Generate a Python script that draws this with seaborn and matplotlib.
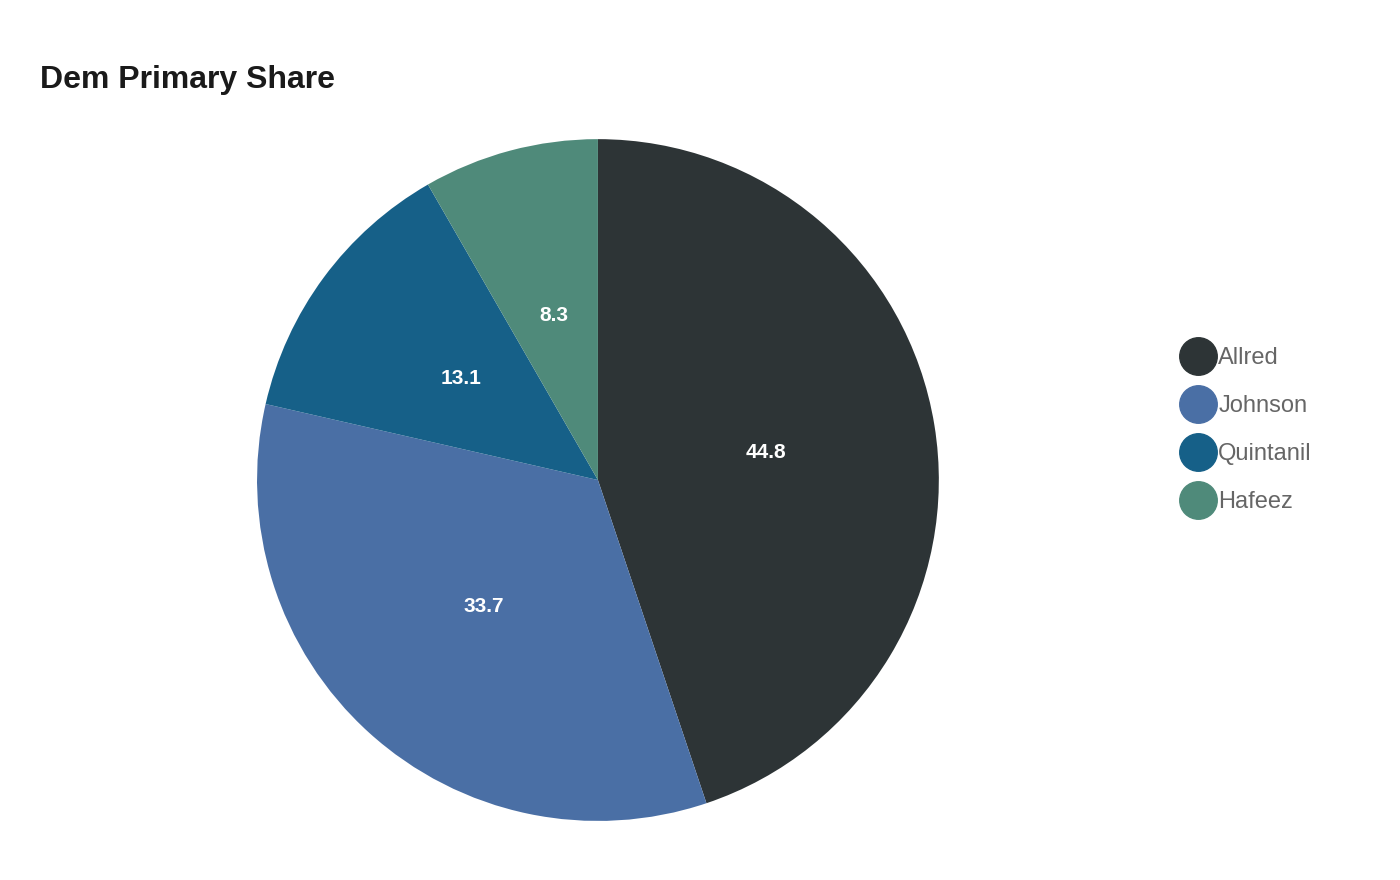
import matplotlib
matplotlib.use("Agg")
import matplotlib.pyplot as plt
from matplotlib.lines import Line2D
import seaborn as sns
import numpy as np

names = ["Allred", "Johnson", "Quintanil", "Hafeez"]
shares = [44.8, 33.7, 13.1, 8.3]
colors = ["#2d3436", "#4a6fa5", "#166088", "#4f8a7a"]

sns.set_theme(style="white")
plt.rcParams['font.family'] = ['Liberation Sans', 'DejaVu Sans']

fig = plt.figure(figsize=(14, 8.8), dpi=100)
ax = fig.add_axes([0.1836, 0.067, 0.487, 0.775])
wedges, texts = ax.pie(shares, colors=colors, startangle=90, counterclock=False,
                       wedgeprops=dict(linewidth=0))
for w, v in zip(wedges, shares):
    ang = np.deg2rad((w.theta1 + w.theta2) / 2)
    ax.text(0.5 * np.cos(ang), 0.5 * np.sin(ang), f"{v}", ha="center", va="center",
            color="white", fontsize=15, fontweight="bold")
ax.set_xlim(-1, 1)
ax.set_ylim(-1, 1)
ax.set_aspect("equal")

fig.text(40/1400, 1 - 80/880, "Dem Primary Share", fontsize=23, fontweight="bold",
         color="#1a1a1a", va="center", ha="left")

handles = [Line2D([0], [0], marker="o", linestyle="", markersize=27,
                  markerfacecolor=c, markeredgecolor=c) for c in colors]
leg = fig.legend(handles, names, loc="center left", bbox_to_anchor=(1158/1400, 1 - 430/880),
                 frameon=False, fontsize=17, labelspacing=1.1, handletextpad=0.05,
                 handlelength=1.6)
for t in leg.get_texts():
    t.set_color("#666666")

fig.savefig("out.png", dpi=100, facecolor="white")
